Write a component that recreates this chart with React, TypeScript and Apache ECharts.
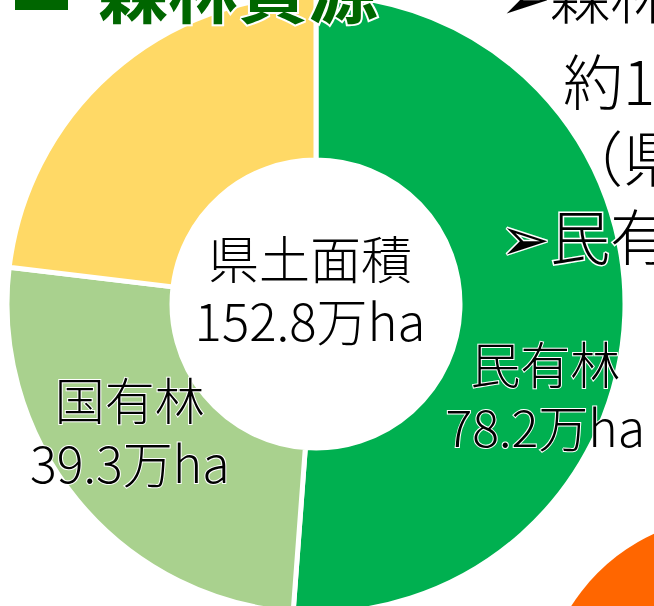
import React, { useEffect, useRef } from "react";
import * as echarts from "echarts";

const categories = ["民有林", "国有林", "その他"];
const areas = [78.2, 39.3, 35.3];
const totalLabel = ["県土面積", "152.8万ha"];
const unit = "万ha";
const colors = ["#00B050", "#A9D18E", "#FFD966"];
const showLabel = [true, true, false];
const sideLines = ["➢森林", "約1", "（県", "➢民有"];
const titleText = "森林資源";

const FONT = '"Noto Sans CJK JP", "Noto Sans", sans-serif';

export default function App() {
  const ref = useRef<HTMLDivElement>(null);
  useEffect(() => {
    document.body.style.margin = "0";
    if (!ref.current) return;
    const chart = echarts.init(ref.current, undefined, { renderer: "svg" });
    const labelShift: Record<number, { dx: number; dy: number }> = {
      0: { dx: 0, dy: 81 },
      1: { dx: -9, dy: -20 },
    };
    chart.setOption({
      animation: false,
      backgroundColor: "#ffffff",
      series: [
        {
          type: "pie",
          center: [316, 304],
          radius: [144, 309],
          startAngle: 90,
          clockwise: true,
          avoidLabelOverlap: false,
          silent: true,
          itemStyle: { borderColor: "#ffffff", borderWidth: 5 },
          label: {
            show: true,
            position: "inside",
            formatter: (p: any) => `${p.name}\n${p.value}${unit}`,
            fontFamily: FONT,
            fontSize: 50,
            fontWeight: 300,
            lineHeight: 63,
            color: "#000000",
            textBorderColor: "#ffffff",
            textBorderWidth: 2,
          },
          labelLayout: (params: any) => labelShift[params.dataIndex] || {},
          labelLine: { show: false },
          emphasis: { disabled: true },
          data: categories.map((name, i) => ({
            name,
            value: areas[i],
            itemStyle: { color: colors[i] },
            label: { show: showLabel[i] },
          })),
        },
      ],
      graphic: [
        {
          type: "circle",
          z: 90,
          shape: { cx: 735, cy: 710, r: 194 },
          style: { fill: "#FF6600" },
        },
        {
          type: "text",
          z: 100,
          x: 310,
          y: 288,
          style: {
            text: totalLabel.join("\n"),
            fontFamily: FONT,
            fontSize: 51,
            fontWeight: 300,
            lineHeight: 62,
            fill: "#000000",
            align: "center",
            verticalAlign: "middle",
          },
        },
        {
          type: "rect",
          z: 100,
          shape: { x: 15, y: -40, width: 53, height: 50 },
          style: { fill: "#006600" },
        },
        {
          type: "text",
          z: 100,
          x: 98,
          y: 22,
          style: {
            text: titleText,
            fontFamily: FONT,
            fontSize: 70,
            fontWeight: "bold",
            fill: "#006600",
            stroke: "#ffffff",
            lineWidth: 4,
            align: "left",
            verticalAlign: "bottom",
          },
        },
        ...sideLines.map((t, i) => ({
          type: "text",
          z: 100,
          x: t.startsWith("➢") ? 500 : 563,
          y: [-8, 78, 155, 233][i],
          style: {
            text: t,
            fontFamily: FONT,
            fontSize: 60,
            fontWeight: 300,
            fill: "#000000",
            stroke: "#ffffff",
            lineWidth: i === 3 ? 3 : 0,
            align: "left",
            verticalAlign: "middle",
          },
        })),
      ],
    });
    return () => chart.dispose();
  }, []);
  return <div ref={ref} style={{ width: 654, height: 606 }} />;
}
